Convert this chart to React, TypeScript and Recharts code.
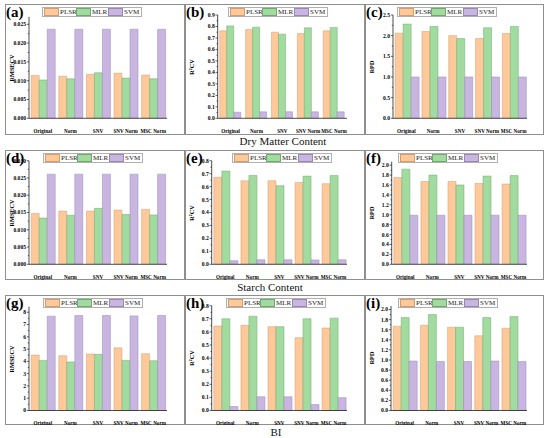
import { BarChart, Bar, XAxis, YAxis } from 'recharts';

const categories = ['Original', 'Norm', 'SNV', 'SNV Norm', 'MSC Norm'];
const modelNames = ['PLSR', 'MLR', 'SVM'];

// Dry matter content
const dmRmsecvPlsr = [0.0114, 0.0112, 0.0117, 0.012, 0.0115];
const dmRmsecvMlr = [0.0102, 0.0105, 0.0121, 0.0107, 0.0105];
const dmRmsecvSvm = [0.0237, 0.0237, 0.0237, 0.0237, 0.0237];
const dmR2Plsr = [0.762, 0.773, 0.75, 0.738, 0.762];
const dmR2Mlr = [0.805, 0.794, 0.733, 0.788, 0.792];
const dmR2Svm = [0.053, 0.056, 0.057, 0.056, 0.056];
const dmRpdPlsr = [2.06, 2.1, 2.0, 1.93, 2.05];
const dmRpdMlr = [2.28, 2.22, 1.93, 2.19, 2.22];
const dmRpdSvm = [1.0, 1.0, 1.0, 1.0, 1.0];

// Starch content
const stRmsecvPlsr = [0.0147, 0.0154, 0.0154, 0.0157, 0.0159];
const stRmsecvMlr = [0.0134, 0.0142, 0.0162, 0.0144, 0.0143];
const stRmsecvSvm = [0.0261, 0.0261, 0.0261, 0.0261, 0.0261];
const stR2Plsr = [0.672, 0.645, 0.645, 0.632, 0.622];
const stR2Mlr = [0.72, 0.686, 0.607, 0.681, 0.686];
const stR2Svm = [0.028, 0.035, 0.035, 0.034, 0.035];
const stRpdPlsr = [1.75, 1.67, 1.67, 1.63, 1.62];
const stRpdMlr = [1.92, 1.8, 1.6, 1.78, 1.79];
const stRpdSvm = [0.99, 0.99, 0.99, 0.99, 0.99];

// BI
const biRmsecvPlsr = [4.51, 4.46, 4.6, 5.1, 4.62];
const biRmsecvMlr = [4.08, 3.95, 4.57, 4.08, 4.05];
const biRmsecvSvm = [7.68, 7.73, 7.73, 7.7, 7.73];
const biR2Plsr = [0.645, 0.65, 0.64, 0.556, 0.63];
const biR2Mlr = [0.7, 0.72, 0.64, 0.7, 0.705];
const biR2Svm = [0.03, 0.105, 0.105, 0.045, 0.098];
const biRpdPlsr = [1.67, 1.69, 1.65, 1.48, 1.63];
const biRpdMlr = [1.84, 1.9, 1.65, 1.84, 1.86];
const biRpdSvm = [0.98, 0.97, 0.97, 0.98, 0.97];

// y tick labels
const rmsecvTicks = [0, 0.005, 0.01, 0.015, 0.02, 0.025];
const rmsecvTicksSt = [0, 0.005, 0.01, 0.015, 0.02, 0.025, 0.03];
const r2Ticks9 = [0, 0.1, 0.2, 0.3, 0.4, 0.5, 0.6, 0.7, 0.8, 0.9];
const r2Ticks8 = [0, 0.1, 0.2, 0.3, 0.4, 0.5, 0.6, 0.7, 0.8];
const rpdTicks25 = [0, 0.5, 1.0, 1.5, 2.0, 2.5];
const rpdTicks20 = [0, 0.2, 0.4, 0.6, 0.8, 1.0, 1.2, 1.4, 1.6, 1.8, 2.0];
const biRmsecvTicks = [0, 1, 2, 3, 4, 5, 6, 7, 8];

const FONT = "'Liberation Serif', 'Times New Roman', Times, serif";
const FILLS = ['#fdc99b', '#a2db9f', '#c8b6e1'];
const STROKES = ['#d69d6c', '#6faa6c', '#9a87b6'];
const KEYS = ['plsr', 'mlr', 'svm'];

function rows(plsr: number[], mlr: number[], svm: number[]) {
  return categories.map((name, i) => ({ name, plsr: plsr[i], mlr: mlr[i], svm: svm[i] }));
}

function withMinor(majors: number[]) {
  const out: number[] = [];
  majors.forEach((m, i) => {
    out.push(m);
    if (i < majors.length - 1) out.push((m + majors[i + 1]) / 2);
  });
  return out;
}

// browser won't render text under 6px, so small labels are drawn at 6 and scaled
function YTick({ x, y, payload, majors, digits }: any) {
  const isMajor = majors.some((m: number) => Math.abs(m - payload.value) < 1e-9);
  return (
    <g>
      <line x1={x} x2={x - (isMajor ? 2.2 : 1.2)} y1={y} y2={y} stroke="#000" strokeWidth={0.6} />
      {isMajor && (
        <text
          transform={`translate(${x - 3},${y}) scale(0.93)`}
          dy="0.35em" textAnchor="end" fontSize={6} fontWeight="bold" fontFamily={FONT} fill="#000"
        >
          {payload.value.toFixed(digits)}
        </text>
      )}
    </g>
  );
}

function XTick({ x, y, payload }: any) {
  return (
    <text
      transform={`translate(${x},${y + 6.5}) scale(0.86)`}
      textAnchor="middle" fontSize={6} fontWeight="bold" fontFamily={FONT} fill="#000"
    >
      {payload.value}
    </text>
  );
}

function LegendBox({ left, top }: { left: number; top: number }) {
  return (
    <div
      style={{
        position: 'absolute', left, top, width: 100, height: 10, boxSizing: 'border-box',
        border: '0.8px solid #b0b0b0', background: '#fff', display: 'flex',
        alignItems: 'center', justifyContent: 'space-between', padding: '0 1px',
      }}
    >
      {modelNames.map((m, i) => (
        <div key={m} style={{ display: 'flex', alignItems: 'center' }}>
          <span style={{ display: 'inline-block', width: 15, height: 8, boxSizing: 'border-box', background: FILLS[i], border: `0.6px solid ${STROKES[i]}` }} />
          <span style={{ fontFamily: FONT, fontSize: 7, lineHeight: '8px', marginLeft: 1, width: 16, color: '#222' }}>{m}</span>
        </div>
      ))}
    </div>
  );
}

interface PanelProps {
  tag: string;
  x: number;
  y: number;
  w: number;
  h: number;
  yLabel: string;
  data: any[];
  max: number;
  ticks: number[];
  digits: number;
  left: number;
  top: number;
  bottom: number;
  legendLeft: number;
  legendTop: number;
}

function Panel(p: PanelProps) {
  const allTicks = withMinor(p.ticks);
  const plotH = p.h - p.top - p.bottom;
  return (
    <div style={{ position: 'absolute', left: p.x, top: p.y, width: p.w, height: p.h }}>
      <div style={{ position: 'absolute', inset: 0, border: '1px solid #8f8f8f' }} />
      <div style={{ position: 'absolute', left: 0, top: 0 }}>
        <BarChart
          width={p.w}
          height={p.h}
          data={p.data}
          margin={{ top: p.top, right: p.w - 162, bottom: 0, left: 0 }}
          barCategoryGap="8%"
          barGap={0}
        >
          <XAxis
            dataKey="name"
            interval={0}
            height={p.bottom}
            tickLine={false}
            axisLine={{ stroke: '#000', strokeWidth: 0.7 }}
            tick={<XTick />}
          />
          <YAxis
            type="number"
            domain={[0, p.max]}
            ticks={allTicks}
            interval={0}
            width={p.left}
            tickSize={0}
            tickMargin={0}
            tickLine={false}
            axisLine={{ stroke: '#000', strokeWidth: 0.7 }}
            tick={<YTick majors={p.ticks} digits={p.digits} />}
            allowDataOverflow
          />
          {KEYS.map((k, i) => (
            <Bar key={k} dataKey={k} name={modelNames[i]} fill={FILLS[i]} stroke={STROKES[i]} strokeWidth={0.5} isAnimationActive={false} />
          ))}
        </BarChart>
      </div>
      <div
        style={{
          position: 'absolute', left: 6, top: p.top + plotH / 2, transform: 'translate(-50%, -50%) rotate(-90deg)',
          fontFamily: FONT, fontSize: 6.2, fontWeight: 'bold', whiteSpace: 'nowrap', color: '#000',
        }}
      >
        {p.yLabel}
      </div>
      <div style={{ position: 'absolute', left: 1, top: 1, fontFamily: FONT, fontSize: 15, fontWeight: 'bold', lineHeight: '15px', color: '#000' }}>
        {p.tag}
      </div>
      <LegendBox left={p.legendLeft - p.x} top={p.legendTop - p.y} />
    </div>
  );
}

const panels: PanelProps[] = [
  { tag: '(a)', x: 5, y: 4, w: 180, h: 131, yLabel: 'RMSECV', data: rows(dmRmsecvPlsr, dmRmsecvMlr, dmRmsecvSvm), max: 0.027, ticks: rmsecvTicks, digits: 3, left: 24, top: 12.8, bottom: 16.7, legendLeft: 42, legendTop: 7 },
  { tag: '(b)', x: 185, y: 4, w: 180, h: 131, yLabel: 'R²CV', data: rows(dmR2Plsr, dmR2Mlr, dmR2Svm), max: 0.9, ticks: r2Ticks9, digits: 1, left: 32.7, top: 11, bottom: 16.7, legendLeft: 228, legendTop: 7 },
  { tag: '(c)', x: 365, y: 4, w: 179, h: 131, yLabel: 'RPD', data: rows(dmRpdPlsr, dmRpdMlr, dmRpdSvm), max: 2.5, ticks: rpdTicks25, digits: 1, left: 28, top: 11, bottom: 16.7, legendLeft: 397, legendTop: 7 },
  { tag: '(d)', x: 5, y: 150, w: 180, h: 130, yLabel: 'RMSECV', data: rows(stRmsecvPlsr, stRmsecvMlr, stRmsecvSvm), max: 0.03, ticks: rmsecvTicksSt, digits: 3, left: 24, top: 10.7, bottom: 15.7, legendLeft: 43, legendTop: 153 },
  { tag: '(e)', x: 185, y: 150, w: 180, h: 130, yLabel: 'R²CV', data: rows(stR2Plsr, stR2Mlr, stR2Svm), max: 0.8, ticks: r2Ticks8, digits: 1, left: 26.7, top: 10.7, bottom: 15.7, legendLeft: 232, legendTop: 153 },
  { tag: '(f)', x: 365, y: 150, w: 179, h: 130, yLabel: 'RPD', data: rows(stRpdPlsr, stRpdMlr, stRpdSvm), max: 2.07, ticks: rpdTicks20, digits: 1, left: 26.7, top: 11.7, bottom: 15.7, legendLeft: 398, legendTop: 153 },
  { tag: '(g)', x: 5, y: 295, w: 180, h: 130, yLabel: 'RMSECV', data: rows(biRmsecvPlsr, biRmsecvMlr, biRmsecvSvm), max: 8.45, ticks: biRmsecvTicks, digits: 0, left: 24, top: 11.7, bottom: 14.5, legendLeft: 43, legendTop: 298 },
  { tag: '(h)', x: 185, y: 295, w: 180, h: 130, yLabel: 'R²CV', data: rows(biR2Plsr, biR2Mlr, biR2Svm), max: 0.8, ticks: r2Ticks8, digits: 1, left: 26.7, top: 10.7, bottom: 14.5, legendLeft: 226, legendTop: 298 },
  { tag: '(i)', x: 365, y: 295, w: 179, h: 130, yLabel: 'RPD', data: rows(biRpdPlsr, biRpdMlr, biRpdSvm), max: 2.07, ticks: rpdTicks20, digits: 1, left: 26, top: 11, bottom: 14.5, legendLeft: 398, legendTop: 298 },
];

const rowTitles = [
  { text: 'Dry Matter Content', cx: 283, cy: 141 },
  { text: 'Starch Content', cx: 270, cy: 286.5 },
  { text: 'BI', cx: 276, cy: 431.5 },
];

export default function App() {
  return (
    <div style={{ position: 'absolute', left: 0, top: 0, width: 550, height: 438, background: '#fff', overflow: 'hidden' }}>
      {panels.map((p) => (
        <Panel key={p.tag} {...p} />
      ))}
      {rowTitles.map((t) => (
        <div
          key={t.text}
          style={{
            position: 'absolute', left: t.cx, top: t.cy, transform: 'translate(-50%, -50%)',
            fontFamily: FONT, fontSize: 11, lineHeight: '12px', whiteSpace: 'nowrap', color: '#111',
          }}
        >
          {t.text}
        </div>
      ))}
    </div>
  );
}
